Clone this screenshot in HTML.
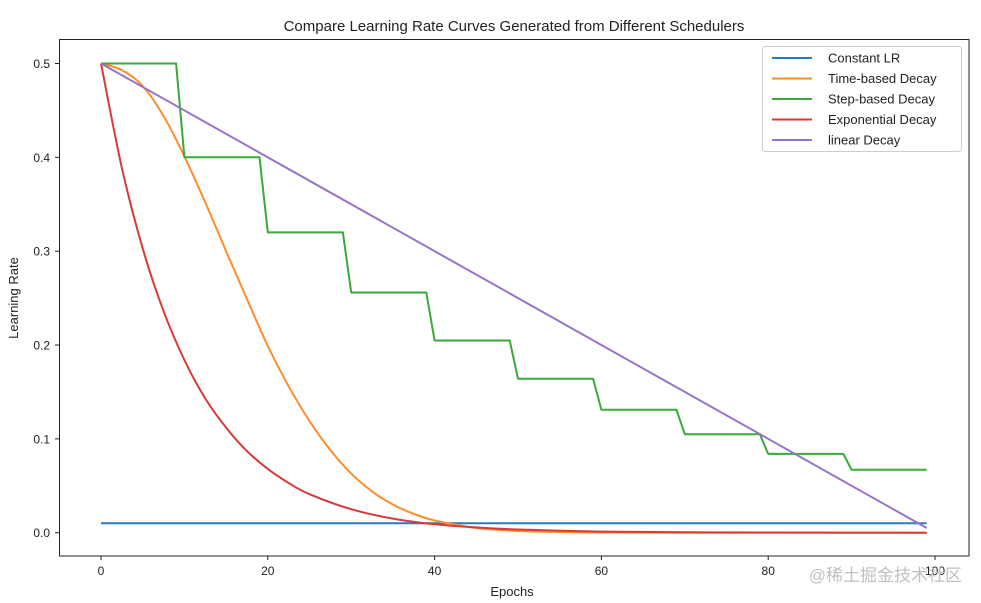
<!DOCTYPE html>
<html><head><meta charset="utf-8"><style>
body{margin:0;background:#fff;}
svg{display:block;font-family:"Liberation Sans","DejaVu Sans",sans-serif;}
</style></head><body>
<svg id="chart" width="981" height="603">
<text x="514" y="31" text-anchor="middle" font-size="15" fill="#222">Compare Learning Rate Curves Generated from Different Schedulers</text>
<g id="plot"></g>
<text x="512" y="596" text-anchor="middle" font-size="13" fill="#222">Epochs</text>
<text transform="translate(18,298) rotate(-90)" text-anchor="middle" font-size="13" fill="#222">Learning Rate</text>
<g id="legend"></g>
<text x="962" y="581" text-anchor="end" font-size="17" fill="#c0c0c0" font-family="'Liberation Sans','Noto Sans CJK SC',sans-serif">@稀土掘金技术社区</text>
</svg>
<script>
const xTicks=[0,20,40,60,80,100];
const yTicks=[0.0,0.1,0.2,0.3,0.4,0.5];
const yTickLabels=["0.0","0.1","0.2","0.3","0.4","0.5"];
const seriesNames=["Constant LR","Time-based Decay","Step-based Decay","Exponential Decay","linear Decay"];
const constEpochs=[0,99];
const constValues=[0.01,0.01];
const timeEpochs=[0,2.5,5,7.5,10,12.5,15,17.5,20,22.5,25,27.5,30,32.5,35,37.5,40,45,50,55,60,70,99];
const timeValues=[0.5,0.493,0.476,0.444,0.401,0.352,0.300,0.249,0.199,0.156,0.119,0.088,0.063,0.044,0.030,0.020,0.013,0.005,0.0018,0.0007,0.0002,0.00002,0];
const stepEpochs=[0,9,10,19,20,29,30,39,40,49,50,59,60,69,70,79,80,89,90,99];
const stepValues=[0.5,0.5,0.4,0.4,0.32,0.32,0.256,0.256,0.2048,0.2048,0.164,0.164,0.131,0.131,0.105,0.105,0.084,0.084,0.067,0.067];
const expEpochs=[0,2.5,5,7.5,10,12.5,15,17.5,20,22.5,25,30,35,40,45,50,60,70,80,99];
const expValues=[0.5,0.389,0.303,0.236,0.184,0.143,0.112,0.087,0.068,0.053,0.041,0.025,0.015,0.009,0.0056,0.0034,0.0012,0.0005,0.0002,0.00003];
const linEpochs=[0,99];
const linValues=[0.5,0.005];
const colors=["#2b7bba","#ff8c2a","#3aa83a","#d63a3a","#9a74c4"];
const smooth=[false,true,false,true,false];
const X=e=>101+e*8.34;
const Y=v=>532.7-v*938.4;
const NS="http://www.w3.org/2000/svg";
const plot=document.getElementById('plot');
function mk(t,a,p){const e=document.createElementNS(NS,t);for(const k in a)e.setAttribute(k,a[k]);(p||plot).appendChild(e);return e;}
const frame=mk('rect',{x:59.5,y:39.5,width:909.5,height:516.5,fill:'none',stroke:'#222','stroke-width':1});


xTicks.forEach(t=>{
 const l=mk('line',{x1:X(t),x2:X(t),y1:556,y2:560,stroke:'#222'});
 
 
 const tx=mk('text',{x:X(t),y:575,'text-anchor':'middle','font-size':12,fill:'#222'});tx.textContent=t;
 
 
});
yTicks.forEach((t,i)=>{
 const l=mk('line',{x1:55,x2:59.5,y1:Y(t),y2:Y(t),stroke:'#222'});
 
 
 const tx=mk('text',{x:50,y:Y(t)+4.5,'text-anchor':'end','font-size':12,fill:'#222'});tx.textContent=yTickLabels[i];
 
 
});
function pathD(P,sm){
 let d='M'+P[0][0].toFixed(1)+','+P[0][1].toFixed(1);
 for(let i=0;i<P.length-1;i++){
  if(!sm){d+=' L'+P[i+1][0].toFixed(1)+','+P[i+1][1].toFixed(1);continue;}
  const p0=P[Math.max(0,i-1)],p1=P[i],p2=P[i+1],p3=P[Math.min(P.length-1,i+2)];
  const c1=[p1[0]+(p2[0]-p0[0])/6,p1[1]+(p2[1]-p0[1])/6];
  const c2=[p2[0]-(p3[0]-p1[0])/6,p2[1]-(p3[1]-p1[1])/6];
  d+=' C'+c1[0].toFixed(1)+','+c1[1].toFixed(1)+' '+c2[0].toFixed(1)+','+c2[1].toFixed(1)+' '+p2[0].toFixed(1)+','+p2[1].toFixed(1);
 }
 return d;
}
const all=[[constEpochs,constValues],[timeEpochs,timeValues],[stepEpochs,stepValues],[expEpochs,expValues],[linEpochs,linValues]];
const lineNames=['constant-lr-line','time-based-decay-line','step-based-decay-line','exponential-decay-line','linear-decay-line'];
all.forEach((s,i)=>{
 const P=s[0].map((e,j)=>[X(e),Y(s[1][j])]);
 const p=mk('path',{d:pathD(P,smooth[i]),fill:'none',stroke:colors[i],'stroke-width':2,'stroke-linejoin':'round'});
 
 
});
const lg=document.getElementById('legend');
const box=mk('rect',{x:762.5,y:46.5,width:199,height:105,rx:3,fill:'#fff','fill-opacity':0.85,stroke:'#ccc'},lg);


seriesNames.forEach((n,i)=>{
 const y=58+i*20.5;
 const l=mk('line',{x1:772,x2:812,y1:y,y2:y,stroke:colors[i],'stroke-width':2},lg);
 
 
 const t=mk('text',{x:828,y:y+4.5,'font-size':13,fill:'#222'},lg);t.textContent=n;
 
 
});
</script>
</body></html>
